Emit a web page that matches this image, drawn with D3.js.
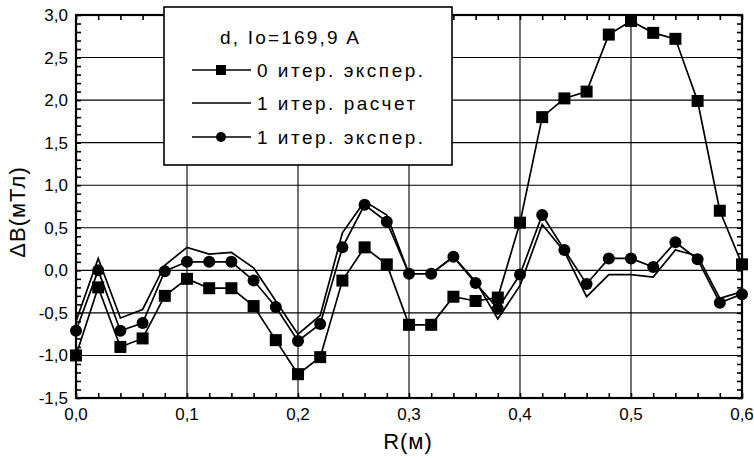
<!DOCTYPE html>
<html>
<head>
<meta charset="utf-8">
<script src="https://cdn.jsdelivr.net/npm/d3@7"></script>
<style>
body { margin: 0; background: #fff; }
text { font-family: "Liberation Sans", Arial, sans-serif; fill: #000; }
</style>
</head>
<body>
<svg width="754" height="458"></svg>
<script>
var svg = d3.select("svg");

//==================================================
//Data

var rValues = [0.00, 0.02, 0.04, 0.06, 0.08, 0.10, 0.12, 0.14, 0.16, 0.18,
               0.20, 0.22, 0.24, 0.26, 0.28, 0.30, 0.32, 0.34, 0.36, 0.38,
               0.40, 0.42, 0.44, 0.46, 0.48, 0.50, 0.52, 0.54, 0.56, 0.58, 0.60];

//0 iter. experiment (squares)
var iter0Exp = [-1.00, -0.20, -0.90, -0.80, -0.30, -0.10, -0.21, -0.21, -0.42, -0.82,
                -1.22, -1.02, -0.12, 0.27, 0.07, -0.64, -0.64, -0.31, -0.36, -0.32,
                0.56, 1.80, 2.02, 2.10, 2.77, 2.93, 2.79, 2.72, 1.99, 0.70, 0.07];

//1 iter. calculation (plain line)
var iter1Calc = [-0.60, 0.14, -0.56, -0.46, 0.06, 0.27, 0.19, 0.21, 0.03, -0.36,
                 -0.75, -0.53, 0.44, 0.81, 0.65, -0.04, -0.04, 0.16, -0.13, -0.57,
                 -0.18, 0.54, 0.22, -0.31, -0.05, -0.05, -0.08, 0.24, 0.17, -0.33, -0.25];

//1 iter. experiment (circles)
var iter1Exp = [-0.71, 0.00, -0.71, -0.62, -0.01, 0.10, 0.10, 0.10, -0.12, -0.43,
                -0.83, -0.63, 0.27, 0.77, 0.57, -0.04, -0.04, 0.16, -0.15, -0.45,
                -0.05, 0.65, 0.24, -0.16, 0.14, 0.14, 0.04, 0.33, 0.13, -0.38, -0.28];

var xTickLabels = ["0,0", "0,1", "0,2", "0,3", "0,4", "0,5", "0,6"];
var yTickLabels = ["-1,5", "-1,0", "-0,5", "0,0", "0,5", "1,0", "1,5", "2,0", "2,5", "3,0"];

var legendTitle = "d, Io=169,9 A";
var legendNames = ["0 итер. экспер.", "1 итер. расчет", "1 итер. экспер."];


//==================================================
//Scales

var plotL = 76, plotR = 742, plotT = 15, plotB = 398;

var x = d3.scaleLinear().domain([0, 0.6]).range([plotL, plotR]);
var y = d3.scaleLinear().domain([-1.5, 3.0]).range([plotB, plotT]);

var xMajor = x.ticks(6);
var yMajor = y.ticks(9);


//==================================================
//Grid and minor ticks

svg.append("g")
    .selectAll("line")
    .data(xMajor.slice(1, -1))
    .enter().append("line")
    .attr("x1", function(d) { return x(d); })
    .attr("x2", function(d) { return x(d); })
    .attr("y1", plotT).attr("y2", plotB)
    .attr("stroke", "#000").attr("stroke-width", 1.1);

svg.append("g")
    .selectAll("line")
    .data(yMajor.slice(1, -1))
    .enter().append("line")
    .attr("y1", function(d) { return y(d); })
    .attr("y2", function(d) { return y(d); })
    .attr("x1", plotL).attr("x2", plotR)
    .attr("stroke", "#000").attr("stroke-width", 1.1);

//inward ticks on all four sides
var noDomain = function(g) { g.select(".domain").remove(); };

svg.append("g").attr("transform", "translate(0," + plotB + ")")
    .call(d3.axisBottom(x).ticks(30).tickSize(-5).tickFormat(""))
    .call(noDomain);
svg.append("g").attr("transform", "translate(0," + plotT + ")")
    .call(d3.axisTop(x).ticks(30).tickSize(-5).tickFormat(""))
    .call(noDomain);
svg.append("g").attr("transform", "translate(" + plotL + ",0)")
    .call(d3.axisLeft(y).ticks(45).tickSize(-5).tickFormat(""))
    .call(noDomain);
svg.append("g").attr("transform", "translate(" + plotR + ",0)")
    .call(d3.axisRight(y).ticks(45).tickSize(-5).tickFormat(""))
    .call(noDomain);

svg.selectAll(".tick line").attr("stroke", "#000").attr("stroke-width", 1.6);

//frame
svg.append("rect")
    .attr("x", plotL).attr("y", plotT)
    .attr("width", plotR - plotL).attr("height", plotB - plotT)
    .attr("fill", "none").attr("stroke", "#000").attr("stroke-width", 2.2);


//==================================================
//Tick labels and axis titles

svg.append("g")
    .selectAll("text")
    .data(xMajor)
    .enter().append("text")
    .attr("x", function(d) { return x(d); })
    .attr("y", 420)
    .attr("text-anchor", "middle")
    .style("font-size", "17px")
    .text(function(d, i) { return xTickLabels[i]; });

svg.append("g")
    .selectAll("text")
    .data(yMajor)
    .enter().append("text")
    .attr("x", 68)
    .attr("y", function(d) { return y(d) + 6; })
    .attr("text-anchor", "end")
    .style("font-size", "17px")
    .text(function(d, i) { return yTickLabels[i]; });

svg.append("text")
    .attr("x", 408).attr("y", 449)
    .attr("text-anchor", "middle")
    .style("font-size", "22px")
    .style("letter-spacing", "1px")
    .text("R(м)");

svg.append("text")
    .attr("transform", "translate(25,212) rotate(-90)")
    .attr("text-anchor", "middle")
    .style("font-size", "22px")
    .style("letter-spacing", "1px")
    .text("ΔB(мТл)");


//==================================================
//Series

var line = d3.line()
    .x(function(d) { return x(d[0]); })
    .y(function(d) { return y(d[1]); });

var pairs = function(vals) {
    return rValues.map(function(r, i) { return [r, vals[i]]; });
};

var plot = svg.append("g");

[iter1Calc, iter1Exp, iter0Exp].forEach(function(vals) {
    plot.append("path")
        .attr("d", line(pairs(vals)))
        .attr("fill", "none")
        .attr("stroke", "#000")
        .attr("stroke-width", 1.7)
        .attr("stroke-linejoin", "miter");
});

plot.append("g")
    .selectAll("circle")
    .data(pairs(iter1Exp))
    .enter().append("circle")
    .attr("cx", function(d) { return x(d[0]); })
    .attr("cy", function(d) { return y(d[1]); })
    .attr("r", 6)
    .attr("fill", "#000");

plot.append("g")
    .selectAll("rect")
    .data(pairs(iter0Exp))
    .enter().append("rect")
    .attr("x", function(d) { return x(d[0]) - 6; })
    .attr("y", function(d) { return y(d[1]) - 6; })
    .attr("width", 12).attr("height", 12)
    .attr("fill", "#000");


//==================================================
//Legend box

var legend = svg.append("g");

legend.append("rect")
    .attr("x", 164).attr("y", 7)
    .attr("width", 288).attr("height", 158)
    .attr("fill", "#fff")
    .attr("stroke", "#000").attr("stroke-width", 1.6);

legend.append("text")
    .attr("x", 220).attr("y", 44)
    .style("font-size", "19px")
    .style("letter-spacing", "2.2px")
    .text(legendTitle);

var rowY = [70, 103, 137];

legend.selectAll(".row")
    .data(legendNames)
    .enter().append("g")
    .attr("class", "row")
    .each(function(name, i) {
        var g = d3.select(this);
        g.append("line")
            .attr("x1", 192).attr("x2", 251)
            .attr("y1", rowY[i]).attr("y2", rowY[i])
            .attr("stroke", "#000").attr("stroke-width", 1.7);
        if (i == 0) {
            g.append("rect")
                .attr("x", 216).attr("y", rowY[i] - 5)
                .attr("width", 10).attr("height", 10)
                .attr("fill", "#000");
        } else if (i == 2) {
            g.append("circle")
                .attr("cx", 221).attr("cy", rowY[i])
                .attr("r", 5).attr("fill", "#000");
        }
        g.append("text")
            .attr("x", 257).attr("y", rowY[i] + 7)
            .style("font-size", "19px")
            .style("letter-spacing", "2.5px")
            .text(name);
    });
</script>
</body>
</html>
